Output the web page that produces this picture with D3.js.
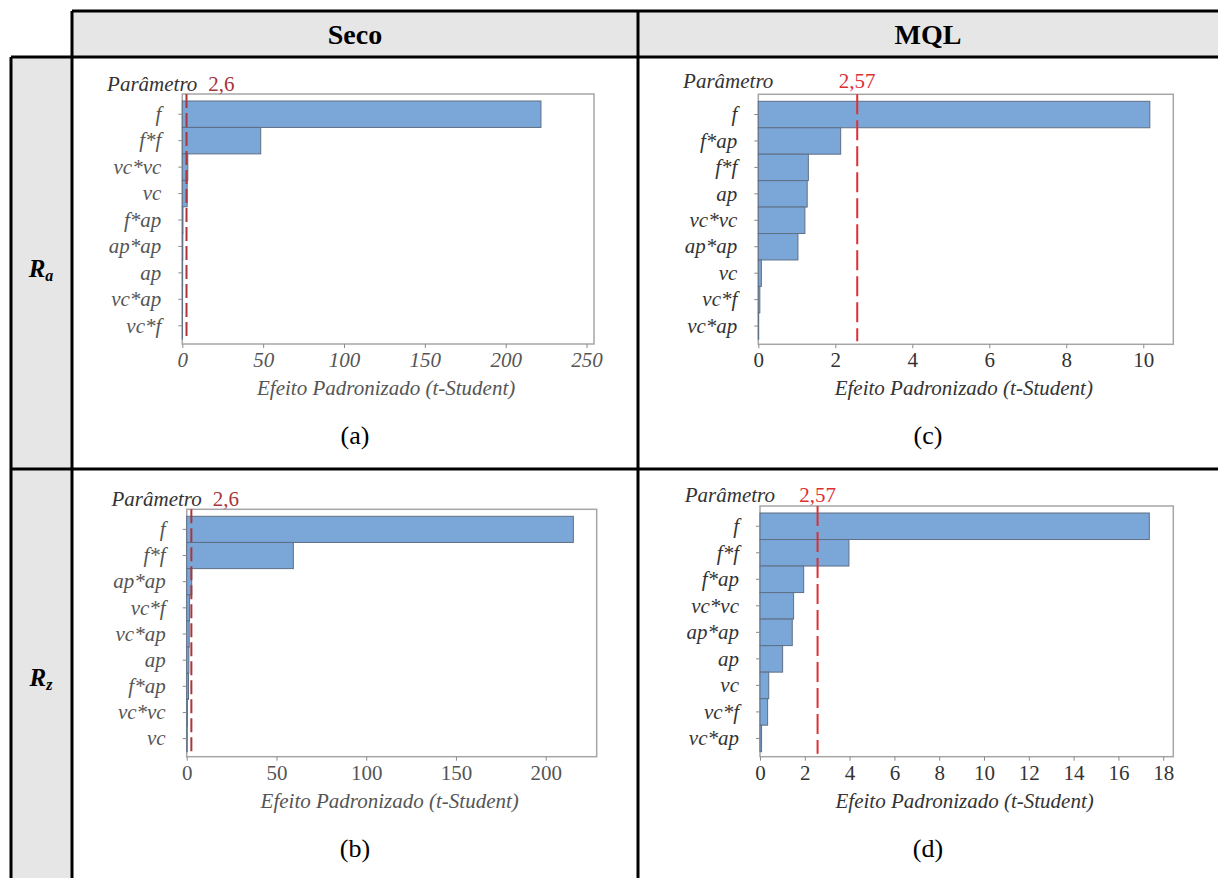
<!DOCTYPE html>
<html>
<head>
<meta charset="utf-8">
<script src="https://cdn.jsdelivr.net/npm/d3@7"></script>
</head>
<body style="margin:0">
<script>
// chart data
var secoRaTerms = ["f", "f*f", "vc*vc", "vc", "f*ap", "ap*ap", "ap", "vc*ap", "vc*f"];
var secoRaValues = [221.8, 48.5, 3.4, 3.0, 0.4, 0.3, 0.2, 0.15, 0.1];
var secoRaTicks = [0, 50, 100, 150, 200, 250];

var secoRzTerms = ["f", "f*f", "ap*ap", "vc*f", "vc*ap", "ap", "f*ap", "vc*vc", "vc"];
var secoRzValues = [215.4, 59.4, 2.8, 1.6, 1.4, 1.2, 1.0, 0.4, 0.3];
var secoRzTicks = [0, 50, 100, 150, 200];

var mqlRaTerms = ["f", "f*ap", "f*f", "ap", "vc*vc", "ap*ap", "vc", "vc*f", "vc*ap"];
var mqlRaValues = [10.17, 2.14, 1.30, 1.27, 1.21, 1.03, 0.08, 0.04, 0.01];
var mqlRaTicks = [0, 2, 4, 6, 8, 10];

var mqlRzTerms = ["f", "f*f", "f*ap", "vc*vc", "ap*ap", "ap", "vc", "vc*f", "vc*ap"];
var mqlRzValues = [17.38, 3.97, 1.95, 1.50, 1.44, 1.01, 0.39, 0.34, 0.07];
var mqlRzTicks = [0, 2, 4, 6, 8, 10, 12, 14, 16, 18];

var columnTitles = ["Seco", "MQL"];
var captions = ["(a)", "(b)", "(c)", "(d)"];
var xTitle = "Efeito Padronizado (t-Student)";
var paramTitle = "Parâmetro";

// svg params
var svgWidth = 1218;
var svgHeight = 878;
var serif = '"Liberation Serif"';

var svg = d3.select("body")
  .append("svg")
  .attr("width", svgWidth)
  .attr("height", svgHeight);

// every text goes through here so the serif face is set right away
function addText(parent, str) {
  return parent.append("text")
    .style("font-family", serif)
    .text(str);
}

// ----------------------------
// table frame
// ----------------------------
var gray = "#e6e6e6";
svg.append("rect").attr("x", 72).attr("y", 11).attr("width", svgWidth - 72).attr("height", 46).attr("fill", gray);
svg.append("rect").attr("x", 11).attr("y", 57).attr("width", 61).attr("height", svgHeight - 57).attr("fill", gray);

var tableLines = [
  [72, 11, svgWidth, 11],
  [11, 57, svgWidth, 57],
  [11, 469, svgWidth, 469],
  [11, 57, 11, svgHeight],
  [72, 11, 72, svgHeight],
  [638, 11, 638, svgHeight]
];
svg.selectAll(".tline")
  .data(tableLines)
  .enter()
  .append("line")
  .attr("x1", d => d[0]).attr("y1", d => d[1])
  .attr("x2", d => d[2]).attr("y2", d => d[3])
  .attr("stroke", "#000")
  .attr("stroke-width", 3);

// column headers
columnTitles.forEach(function(t, i) {
  addText(svg, t)
    .attr("x", i === 0 ? 355 : 928)
    .attr("y", 44)
    .attr("text-anchor", "middle")
    .attr("font-weight", "bold")
    .attr("font-size", 28)
    .attr("fill", "#000");
});

// row labels R_a, R_z
[["a", 277], ["z", 686]].forEach(function(r) {
  var t = addText(svg, "R")
    .attr("x", 41)
    .attr("y", r[1])
    .attr("text-anchor", "middle")
    .attr("font-weight", "bold")
    .attr("font-style", "italic")
    .attr("font-size", 25)
    .attr("fill", "#000");
  t.append("tspan").attr("font-size", 16).attr("dy", 4).text(r[0]);
});

// captions
var captionPos = [[355, 444], [355, 857], [928, 444], [928, 857]];
captions.forEach(function(c, i) {
  addText(svg, c)
    .attr("x", captionPos[i][0])
    .attr("y", captionPos[i][1])
    .attr("text-anchor", "middle")
    .attr("font-size", 26)
    .attr("fill", "#000");
});

// ----------------------------
// Pareto chart helper
// ----------------------------
function drawPareto(cfg) {
  var g = svg.append("g");
  var fs = 21;

  var xScale = d3.scaleLinear()
    .domain([0, cfg.xMax])
    .range([cfg.x0, cfg.x1]);

  var yScale = d3.scaleBand()
    .domain(cfg.terms)
    .range([cfg.y0 + 7, cfg.y1 - 5])
    .padding(0);

  // frame
  g.append("rect")
    .attr("x", cfg.x0)
    .attr("y", cfg.y0)
    .attr("width", cfg.x1 - cfg.x0)
    .attr("height", cfg.y1 - cfg.y0)
    .attr("fill", "#fff")
    .attr("stroke", "#a6a6a6")
    .attr("stroke-width", 1.5);

  // bars
  var data = cfg.terms.map((t, i) => ({ term: t, value: cfg.values[i] }));
  g.selectAll(".bar")
    .data(data)
    .enter()
    .append("rect")
    .attr("x", xScale(0))
    .attr("y", d => yScale(d.term))
    .attr("width", d => xScale(d.value) - xScale(0))
    .attr("height", yScale.bandwidth())
    .attr("fill", "#7ba6d8")
    .attr("stroke", "#5f6f84")
    .attr("stroke-width", 1);

  // reference line
  g.append("line")
    .attr("x1", xScale(cfg.ref)).attr("x2", xScale(cfg.ref))
    .attr("y1", cfg.y0).attr("y2", cfg.y1 - 3)
    .attr("stroke", cfg.refColor)
    .attr("stroke-width", 2)
    .attr("stroke-dasharray", cfg.dash);

  // axes
  var leftAxis = d3.axisLeft(yScale).tickSize(4).tickPadding(17);
  var bottomAxis = d3.axisBottom(xScale).tickValues(cfg.ticks).tickSize(4).tickPadding(4);

  var ly = g.append("g")
    .attr("transform", `translate(${cfg.x0}, 0)`)
    .call(leftAxis);
  var lx = g.append("g")
    .attr("transform", `translate(0, ${cfg.y1})`)
    .call(bottomAxis);

  [ly, lx].forEach(function(a) {
    a.attr("font-family", null).attr("font-size", null);
    a.select(".domain").remove();
    a.selectAll("line").attr("stroke", "#8a8a8a");
    a.selectAll("text")
      .style("font-family", serif)
      .attr("font-size", fs)
      .attr("fill", cfg.textColor);
  });
  ly.selectAll("text").attr("font-style", "italic");
  if (cfg.italicX) lx.selectAll("text").attr("font-style", "italic");

  // axis title
  addText(g, xTitle)
    .attr("x", (cfg.x0 + cfg.x1) / 2 - 2)
    .attr("y", cfg.y1 + 51)
    .attr("text-anchor", "middle")
    .attr("font-style", "italic")
    .attr("font-size", fs)
    .attr("fill", cfg.textColor);

  // "Parâmetro" and critical value labels
  addText(g, paramTitle)
    .attr("x", cfg.x0 + 15)
    .attr("y", cfg.y0 - cfg.labelRaise)
    .attr("text-anchor", "end")
    .attr("font-style", "italic")
    .attr("font-size", fs)
    .attr("fill", "#333");

  addText(g, cfg.refLabel)
    .attr("x", cfg.refCentered ? xScale(cfg.ref) : cfg.x0 + 26)
    .attr("y", cfg.y0 - cfg.labelRaise)
    .attr("text-anchor", cfg.refCentered ? "middle" : "start")
    .attr("font-size", fs)
    .attr("fill", cfg.refColor);
}

drawPareto({
  terms: secoRaTerms, values: secoRaValues, ticks: secoRaTicks,
  x0: 182.3, x1: 594, y0: 94, y1: 344, xMax: 254.6,
  ref: 2.6, refLabel: "2,6", refColor: "#a8363c", dash: "14,5",
  textColor: "#555", italicX: true, refCentered: false, labelRaise: 3
});

drawPareto({
  terms: secoRzTerms, values: secoRzValues, ticks: secoRzTicks,
  x0: 186.7, x1: 596.7, y0: 509.3, y1: 756.7, xMax: 228.4,
  ref: 2.6, refLabel: "2,6", refColor: "#a8363c", dash: "14,5",
  textColor: "#555", italicX: false, refCentered: false, labelRaise: 3
});

drawPareto({
  terms: mqlRaTerms, values: mqlRaValues, ticks: mqlRaTicks,
  x0: 758.3, x1: 1173.3, y0: 94.3, y1: 344.3, xMax: 10.78,
  ref: 2.57, refLabel: "2,57", refColor: "#dc2f36", dash: "20,6",
  textColor: "#333", italicX: false, refCentered: true, labelRaise: 6
});

drawPareto({
  terms: mqlRzTerms, values: mqlRzValues, ticks: mqlRzTicks,
  x0: 760, x1: 1173.3, y0: 506, y1: 756.7, xMax: 18.45,
  ref: 2.57, refLabel: "2,57", refColor: "#dc2f36", dash: "20,6",
  textColor: "#333", italicX: false, refCentered: true, labelRaise: 4
});
</script>
</body>
</html>
